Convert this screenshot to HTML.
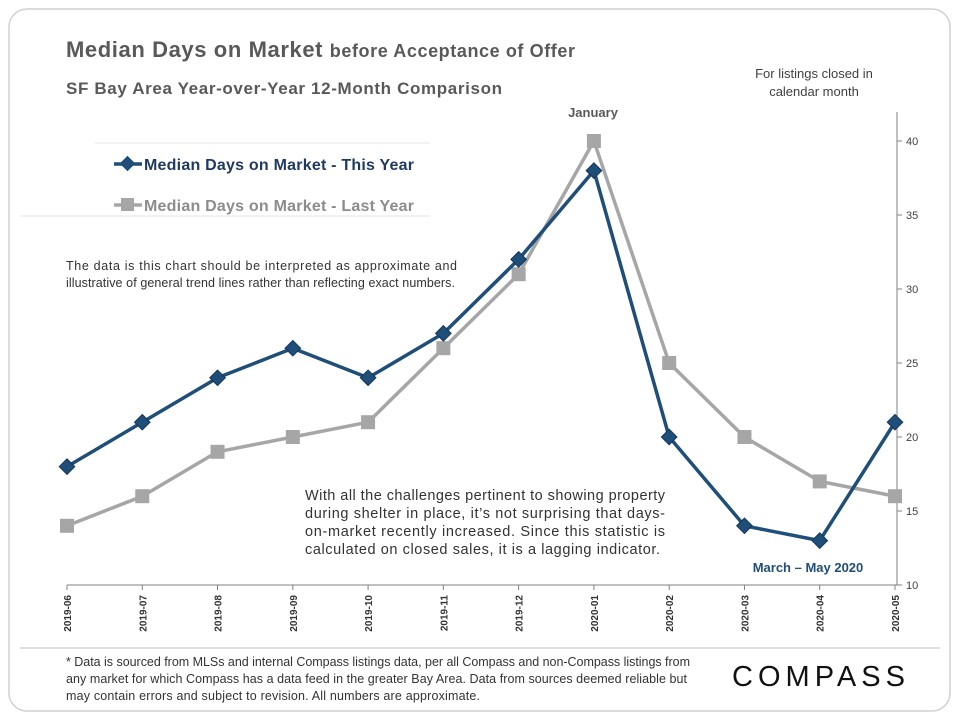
<!DOCTYPE html>
<html><head><meta charset="utf-8"><style>
body{margin:0;background:#fff;font-family:"Liberation Sans",sans-serif}
svg text{font-family:"Liberation Sans",sans-serif}
</style></head><body>
<svg id="c" width="960" height="720" xmlns="http://www.w3.org/2000/svg">
<rect x="9" y="9" width="941" height="702" rx="18" fill="#fff" stroke="#d0d0d0" stroke-width="1.5"/>
<text x="66" y="57" font-size="22" font-weight="bold" fill="#595959" textLength="509">Median Days on Market <tspan font-size="18">before Acceptance of Offer</tspan></text>
<text x="66" y="94" font-size="17" font-weight="bold" fill="#595959" textLength="436">SF Bay Area Year-over-Year  12-Month Comparison</text>
<text x="814" y="78" font-size="13" fill="#404040" text-anchor="middle">For listings closed in</text>
<text x="814" y="96" font-size="13" fill="#404040" text-anchor="middle">calendar month</text>
<text x="593" y="117" font-size="13" font-weight="bold" fill="#595959" text-anchor="middle">January</text>
<line x1="95" y1="143" x2="430" y2="143" stroke="#e6e6e6"/>
<line x1="20" y1="216" x2="430" y2="216" stroke="#e6e6e6"/>
<g>
<line x1="114" y1="164" x2="142" y2="164" stroke="#1f4e79" stroke-width="3.5"/>
<rect x="122" y="158" width="11" height="11" fill="#1f4e79" transform="rotate(45 127.5 163.5)"/>
<text x="144" y="170" font-size="16" font-weight="bold" fill="#1f3a5f" textLength="270">Median Days on Market - This Year</text></g>
<g>
<line x1="114" y1="205" x2="142" y2="205" stroke="#a6a6a6" stroke-width="3.5"/>
<rect x="121" y="198" width="13" height="13" fill="#a6a6a6"/>
<text x="144" y="211" font-size="16" font-weight="bold" fill="#8c8c8c" textLength="270">Median Days on Market - Last Year</text></g>
<text font-size="12.5" fill="#333"><tspan x="66" y="270" textLength="391">The data is this chart should be interpreted as approximate and</tspan><tspan x="66" y="287" textLength="389">illustrative of general trend lines rather than reflecting exact numbers.</tspan></text>
<text font-size="14.5" fill="#333"><tspan x="305" y="500" textLength="360">With all the challenges pertinent to showing property</tspan><tspan x="305" y="518" textLength="360">during shelter in place, it’s not surprising that days-</tspan><tspan x="305" y="536" textLength="360">on-market recently increased. Since this statistic is</tspan><tspan x="305" y="554" textLength="355">calculated on closed sales, it is a lagging indicator.</tspan></text>
<text x="808" y="572" font-size="13" font-weight="bold" fill="#1f4e79" text-anchor="middle">March – May 2020</text>
<g id="axes"></g>
<g id="marks"></g>
<line x1="20" y1="648" x2="940" y2="648" stroke="#bfbfbf"/>
<text font-size="12.5" fill="#333"><tspan x="66" y="666" textLength="624">* Data is sourced from MLSs and internal Compass listings data, per all Compass and non-Compass listings from</tspan><tspan x="66" y="683" textLength="621">any market for which Compass has a data feed in the greater Bay Area. Data from sources deemed reliable but</tspan><tspan x="66" y="700" textLength="414">may contain errors and subject to revision. All numbers are approximate.</tspan></text>
<text x="821" y="686" font-size="29" fill="#111" text-anchor="middle" letter-spacing="5">COMPASS</text>
</svg>
<script>
const categories=["2019-06","2019-07","2019-08","2019-09","2019-10","2019-11","2019-12","2020-01","2020-02","2020-03","2020-04","2020-05"];
const thisYear=[18,21,24,26,24,27,32,38,20,14,13,21];
const lastYear=[14,16,19,20,21,26,31,40,25,20,17,16];
const yTicks=[10,15,20,25,30,35,40];
const NS="http://www.w3.org/2000/svg";
const x0=67,x1=895,yB=585,yT=141,vmin=10,vmax=40;
const xs=i=>x0+(x1-x0)*i/(categories.length-1);
const ys=v=>yB-(v-vmin)/(vmax-vmin)*(yB-yT);
function mk(t,a,p){const e=document.createElementNS(NS,t);for(const k in a)e.setAttribute(k,a[k]);p.appendChild(e);return e;}
const ax=document.getElementById('axes'),mg=document.getElementById('marks');
const xl=mk('line',{x1:x0,y1:yB,x2:897,y2:yB,stroke:'#808080','stroke-width':1},ax);


const yl=mk('line',{x1:897,y1:yB,x2:897,y2:112,stroke:'#808080','stroke-width':1},ax);


yTicks.forEach(v=>{
 mk('line',{x1:897,y1:ys(v),x2:902,y2:ys(v),stroke:'#808080'},ax);
 const t=mk('text',{x:906,y:ys(v)+4,'font-size':11,fill:'#404040'},ax);t.textContent=v;
 
 
});
categories.forEach((c,i)=>{
 const x=xs(i);
 mk('line',{x1:x,y1:yB,x2:x,y2:yB+5,stroke:'#808080'},ax);
 const t=mk('text',{x:0,y:0,'font-size':10,'font-weight':'bold',fill:'#333','text-anchor':'end',transform:`translate(${x+4},${yB+10}) rotate(-90)`},ax);
 t.textContent=c;
 
 
});
function series(vals,color,name,shape){
 const p=mk('polyline',{points:vals.map((v,i)=>xs(i)+','+ys(v)).join(' '),fill:'none',stroke:color,'stroke-width':3.5,'stroke-linejoin':'round'},mg);
 
 
 vals.forEach((v,i)=>{
  const x=xs(i),y=ys(v);let m;
  if(shape==='d')m=mk('rect',{x:x-5.5,y:y-5.5,width:11,height:11,fill:color,stroke:'#16365c','stroke-width':1,transform:`rotate(45 ${x} ${y})`},mg);
  else m=mk('rect',{x:x-7,y:y-7,width:14,height:14,fill:color},mg);
  
  
 });
}
series(lastYear,'#a6a6a6','last-year','s');
series(thisYear,'#1f4e79','this-year','d');
</script>
</body></html>
